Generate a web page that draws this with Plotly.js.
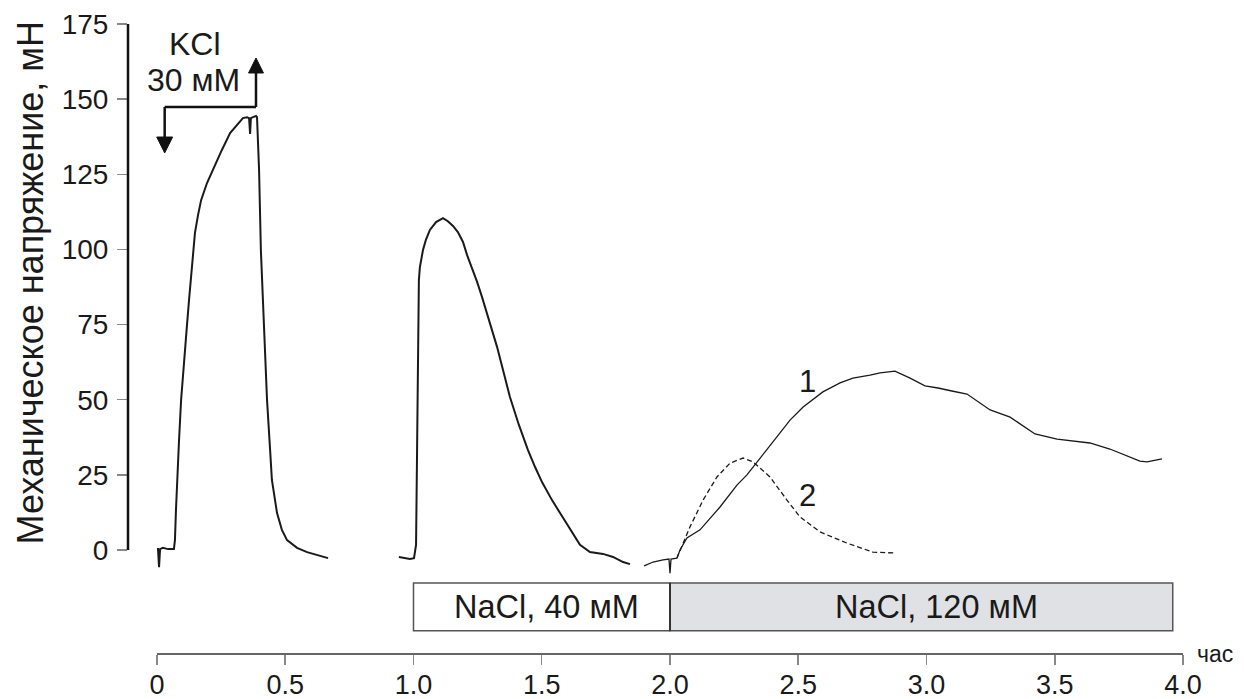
<!DOCTYPE html>
<html>
<head>
<meta charset="utf-8">
<script src="https://cdn.plot.ly/plotly-3.0.1.min.js"></script>
<style>html,body{margin:0;padding:0;background:#fff;}#chart{width:1244px;height:699px;}</style>
</head>
<body>
<div id="chart"></div>
<script>
// ---- Data (time in hours, tension in mN) ----
// KCl 30 mM contraction
const kclT = [0.00,0.004,0.008,0.012,0.023,0.043,0.066,0.070,0.074,0.078,0.086,0.094,0.105,0.117,0.125,0.135,0.148,0.160,0.172,0.195,0.222,0.253,0.285,0.316,0.335,0.351,0.359,0.363,0.366,0.374,0.386,0.390,0.398,0.405,0.413,0.421,0.429,0.441,0.448,0.468,0.487,0.507,0.546,0.585,0.628,0.667];
const kclF = [0.3,0.3,-5.7,0.3,0.7,0.3,0.3,3.3,13.3,23.3,36.6,49.9,63.2,74.9,83.2,94.1,105.5,111.4,116.4,122.1,127.4,133.1,138.7,142.0,143.7,144.0,143.7,138.4,143.7,144.0,144.4,144.0,126.4,99.8,83.2,63.2,49.9,33.3,23.3,12.3,6.7,3.3,0.7,-0.7,-1.7,-2.7];
// NaCl 40 mM contraction
const na40T = [0.943,0.967,0.986,1.002,1.010,1.014,1.018,1.021,1.025,1.037,1.048,1.064,1.088,1.115,1.134,1.154,1.173,1.193,1.209,1.228,1.248,1.267,1.298,1.326,1.349,1.376,1.411,1.446,1.474,1.501,1.540,1.579,1.618,1.649,1.688,1.739,1.778,1.817,1.844];
const na40F = [-2.3,-2.7,-3.0,-2.7,1.7,33.3,83.2,89.8,94.1,99.8,103.1,106.5,109.1,110.4,109.4,107.8,105.8,102.5,98.1,93.8,89.2,84.2,75.8,67.5,59.9,50.9,41.6,33.3,27.6,22.6,16.6,11.3,5.7,1.7,-0.7,-1.3,-2.3,-4.0,-4.7];
// NaCl 120 mM, record 1
const rec1T = [1.899,1.934,1.973,1.996,2.000,2.004,2.027,2.039,2.066,2.117,2.195,2.261,2.300,2.339,2.468,2.519,2.596,2.663,2.713,2.780,2.819,2.877,2.936,2.994,3.045,3.099,3.158,3.248,3.326,3.423,3.509,3.637,3.715,3.832,3.860,3.918];
const rec1F = [-5.3,-4.0,-3.3,-3.0,-7.7,-3.0,-2.7,0.0,4.0,6.7,14.3,21.6,25.0,29.3,43.2,47.6,52.6,55.6,57.2,58.2,58.9,59.5,57.2,54.6,53.9,52.9,51.9,46.6,44.2,38.6,36.9,35.6,33.6,29.6,29.3,30.3];
// NaCl 120 mM, record 2
const rec2T = [2.027,2.078,2.129,2.183,2.234,2.285,2.324,2.390,2.456,2.507,2.585,2.690,2.791,2.846,2.877];
const rec2F = [-2.7,7.7,16.6,24.3,28.9,30.6,29.3,24.3,16.6,11.0,6.0,2.3,-0.7,-1.0,-1.0];

// Axis ticks
const xTickVals = [0,0.5,1.0,1.5,2.0,2.5,3.0,3.5,4.0];
const xTickText = ['0','0.5','1.0','1.5','2.0','2.5','3.0','3.5','4.0'];
const yTickVals = [0,25,50,75,100,125,150,175];

// Application periods
const kclOn = 0.03, kclOff = 0.386;
const periodStart = [1.0, 2.0];
const periodEnd = [2.0, 3.96];
const periodLabel = ['NaCl, 40 мМ', 'NaCl, 120 мМ'];
const periodLabelX = [1.52, 3.04];

const FONT = 'Liberation Sans, Arial, sans-serif';
const INK = '#1a1a1a';

const traces = [
  {x: kclT, y: kclF, mode: 'lines', line: {color: INK, width: 2}, hoverinfo: 'skip'},
  {x: na40T, y: na40F, mode: 'lines', line: {color: INK, width: 2}, hoverinfo: 'skip'},
  {x: rec1T, y: rec1F, mode: 'lines', line: {color: INK, width: 1.3}, hoverinfo: 'skip'},
  {x: rec2T, y: rec2F, mode: 'lines', line: {color: INK, width: 1.3, dash: '5px,3px'}, hoverinfo: 'skip'}
];

const barTop = -11.0, barBot = -26.9;
const arrowBarY = 147.4;

const shapes = [
  {type: 'line', xref: 'paper', yref: 'y', x0: 0, x1: 0, y0: 0, y1: 175, line: {color: '#111', width: 2.5}},
  {type: 'line', xref: 'x', yref: 'paper', x0: 0, x1: 4.0, y0: 0, y1: 0, line: {color: '#333', width: 1.5}},
  {type: 'rect', xref: 'x', yref: 'y', x0: periodStart[0], x1: periodEnd[0], y0: barBot, y1: barTop, fillcolor: '#ffffff', line: {color: '#555', width: 1.5}},
  {type: 'rect', xref: 'x', yref: 'y', x0: periodStart[1], x1: periodEnd[1], y0: barBot, y1: barTop, fillcolor: '#e0e1e5', line: {color: '#555', width: 1.5}},
  {type: 'line', xref: 'x', yref: 'y', x0: periodStart[1], x1: periodStart[1], y0: barBot, y1: barTop, line: {color: '#333', width: 2}},
  {type: 'line', xref: 'x', yref: 'y', x0: kclOn, x1: kclOff, y0: arrowBarY, y1: arrowBarY, line: {color: '#111', width: 2.5}},
  {type: 'line', xref: 'x', yref: 'y', x0: kclOn, x1: kclOn, y0: arrowBarY, y1: 137.4, line: {color: '#111', width: 2.5}},
  {type: 'line', xref: 'x', yref: 'y', x0: kclOff, x1: kclOff, y0: arrowBarY, y1: 158.7, line: {color: '#111', width: 2.5}},
  {type: 'path', xref: 'x', yref: 'y', path: `M ${kclOn-0.031},137.4 L ${kclOn+0.031},137.4 L ${kclOn},132.1 Z`, fillcolor: '#111', line: {color: '#111', width: 1}},
  {type: 'path', xref: 'x', yref: 'y', path: `M ${kclOff-0.029},158.7 L ${kclOff+0.029},158.7 L ${kclOff},163.7 Z`, fillcolor: '#111', line: {color: '#111', width: 1}}
];

const annotations = [
  {xref: 'paper', yref: 'paper', x: -0.0929, y: 0.5897, text: 'Механическое напряжение, мН', textangle: -90, showarrow: false, xanchor: 'center', yanchor: 'middle', font: {family: FONT, size: 36, color: INK}},
  {xref: 'x', yref: 'paper', x: 4.0, y: 0, xanchor: 'left', yanchor: 'middle', xshift: 12, text: 'час', showarrow: false, font: {family: FONT, size: 23, color: INK}},
  {xref: 'x', yref: 'y', x: 0.148, y: 168.3, text: 'KCl', showarrow: false, font: {family: FONT, size: 32, color: INK}},
  {xref: 'x', yref: 'y', x: 0.142, y: 156.4, text: '30 мМ', showarrow: false, font: {family: FONT, size: 32, color: INK}},
  {xref: 'x', yref: 'y', x: periodLabelX[0], y: -19.0, text: periodLabel[0], showarrow: false, font: {family: FONT, size: 32.5, color: INK}},
  {xref: 'x', yref: 'y', x: periodLabelX[1], y: -19.0, text: periodLabel[1], showarrow: false, font: {family: FONT, size: 32.5, color: INK}},
  {xref: 'x', yref: 'y', x: 2.538, y: 56.2, text: '1', showarrow: false, font: {family: FONT, size: 31, color: INK}},
  {xref: 'x', yref: 'y', x: 2.538, y: 18.3, text: '2', showarrow: false, font: {family: FONT, size: 31, color: INK}}
];

const layout = {
  width: 1244, height: 699,
  margin: {l: 128, r: 61, t: 24, b: 45, pad: 0},
  paper_bgcolor: '#ffffff', plot_bgcolor: '#ffffff',
  showlegend: false,
  xaxis: {
    range: [-0.113, 4.0], tickvals: xTickVals, ticktext: xTickText,
    ticks: 'outside', ticklen: 10, tickwidth: 1.5, tickcolor: '#888',
    showline: false, showgrid: false, zeroline: false, fixedrange: true,
    ticklabelstandoff: -3,
    tickfont: {family: FONT, size: 27, color: INK}
  },
  yaxis: {
    range: [-34.6, 175], tickvals: yTickVals,
    ticks: 'outside', ticklen: 10, tickwidth: 1.5, tickcolor: '#888',
    showline: false, showgrid: false, zeroline: false, fixedrange: true,
    ticklabelstandoff: 3,
    tickfont: {family: FONT, size: 28, color: INK}
  },
  shapes: shapes,
  annotations: annotations
};

Plotly.newPlot('chart', traces, layout, {displayModeBar: false, staticPlot: true});
</script>
</body>
</html>
